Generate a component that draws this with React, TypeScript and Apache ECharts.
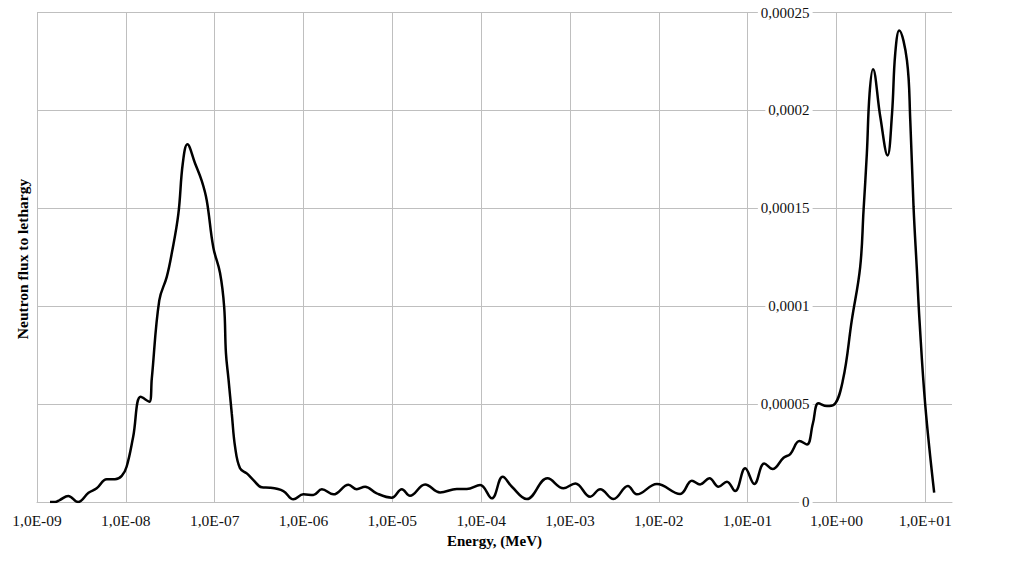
import React, { useEffect, useRef } from "react";
import * as echarts from "echarts";

// Energy (MeV) and neutron flux to lethargy
const energies: number[] = [
  1.4e-9, 1.6e-9, 1.8e-9, 2.25e-9, 2.9e-9, 3.8e-9, 4.7e-9, 6.1e-9, 7.55e-9, 9.0e-9,
  1.02e-8, 1.21e-8, 1.47e-8, 1.84e-8, 1.96e-8, 2.38e-8, 2.89e-8, 3.29e-8, 3.9e-8, 4.38e-8,
  4.93e-8, 6.01e-8, 7.16e-8, 8.15e-8, 9.66e-8, 1.15e-7, 1.28e-7, 1.34e-7, 1.43e-7, 1.56e-7,
  1.7e-7, 1.93e-7, 2.3e-7, 2.73e-7, 3.39e-7, 4.21e-7, 5.94e-7, 7.69e-7, 9.98e-7, 1.29e-6,
  1.61e-6, 2.17e-6, 3.21e-6, 3.98e-6, 4.94e-6, 6.68e-6, 9.86e-6, 1.28e-5, 1.58e-5, 2.34e-5,
  3.45e-5, 5.32e-5, 6.9e-5, 9.75e-5, 1.32e-4, 1.75e-4, 2.22e-4, 3.27e-4, 5.58e-4, 8.45e-4,
  1.15e-3, 1.69e-3, 2.19e-3, 3.09e-3, 4.49e-3, 5.66e-3, 9.53e-3, 1.74e-2, 2.36e-2, 2.92e-2,
  3.72e-2, 4.7e-2, 5.85e-2, 7.24e-2, 9.4e-2, 0.119, 0.154, 0.191, 0.254, 0.302,
  0.384, 0.466, 0.543, 0.628, 0.782, 0.927, 1.18, 1.49, 1.85, 2.02,
  2.2, 2.36, 2.58, 3.11, 3.76, 4.22, 4.59, 5.09, 6.22, 6.78,
  7.38, 8.05, 8.61, 10.0, 12.6,
];

const flux: number[] = [
  0.0, 0.0, 0.1e-5, 0.31e-5, 0.0, 0.47e-5, 0.7e-5, 1.16e-5, 1.16e-5, 1.33e-5,
  1.8e-5, 3.33e-5, 5.37e-5, 5.12e-5, 6.3e-5, 10.3e-5, 11.5e-5, 12.7e-5, 14.7e-5, 17.3e-5,
  18.27e-5, 17.3e-5, 16.4e-5, 15.4e-5, 13.0e-5, 11.7e-5, 9.96e-5, 7.6e-5, 6.3e-5, 4.5e-5,
  2.8e-5, 1.72e-5, 1.46e-5, 1.12e-5, 0.75e-5, 0.73e-5, 0.56e-5, 0.14e-5, 0.39e-5, 0.36e-5,
  0.65e-5, 0.39e-5, 0.88e-5, 0.65e-5, 0.78e-5, 0.44e-5, 0.22e-5, 0.65e-5, 0.32e-5, 0.9e-5,
  0.49e-5, 0.66e-5, 0.66e-5, 0.87e-5, 0.19e-5, 1.29e-5, 0.78e-5, 0.15e-5, 1.21e-5, 0.7e-5,
  0.95e-5, 0.27e-5, 0.65e-5, 0.15e-5, 0.82e-5, 0.39e-5, 0.92e-5, 0.41e-5, 1.09e-5, 0.9e-5,
  1.21e-5, 0.78e-5, 1.04e-5, 0.56e-5, 1.72e-5, 0.92e-5, 1.97e-5, 1.68e-5, 2.26e-5, 2.45e-5,
  3.11e-5, 2.94e-5, 4.01e-5, 5.04e-5, 4.9e-5, 4.95e-5, 6.2e-5, 9.29e-5, 12.0e-5, 14.9e-5,
  17.8e-5, 20.85e-5, 22.1e-5, 19.7e-5, 17.7e-5, 19.8e-5, 22.9e-5, 24.08e-5, 22.55e-5, 19.5e-5,
  15.07e-5, 11.84e-5, 9.29e-5, 4.95e-5, 0.48e-5,
];

const xMin = 1e-9;
const xMax = 20;
const yTicks: string[] = ["0", "0,00005", "0,0001", "0,00015", "0,0002", "0,00025"];
const yMax = 0.00025;
const yStep = 0.00005;

const xTitle = "Energy, (MeV)";
const yTitle = "Neutron flux to lethargy";

const FONT = "'Liberation Serif', 'Times New Roman', serif";
const GRID = "#bfbfbf";

function fmtX(v: number): string {
  const e = Math.round(Math.log10(v));
  if (Math.abs(v - Math.pow(10, e)) / v > 1e-6) return "";
  const a = Math.abs(e);
  return "1,0E" + (e < 0 ? "-" : "+") + (a < 10 ? "0" + a : String(a));
}

export default function App() {
  const ref = useRef<HTMLDivElement>(null);
  useEffect(() => {
    if (!ref.current) return;
    const chart = echarts.init(ref.current, undefined, { renderer: "svg" });
    const gridLeft = 37;
    const gridRight = 72;
    const gridW = 1024 - gridLeft - gridRight;
    const decade = gridW / (Math.log10(xMax) - Math.log10(xMin));
    const yAxisX = gridLeft + decade * 8; // position of 1E-1
    const offset = -(gridLeft + gridW - yAxisX);
    const splitColors: string[] = [];
    for (let i = 0; i < 11; i++) splitColors.push(GRID);
    splitColors.push("rgba(0,0,0,0)");

    chart.setOption({
      animation: false,
      backgroundColor: "#ffffff",
      grid: { left: gridLeft, right: gridRight, top: 12.5, bottom: 59, containLabel: false },
      xAxis: {
        type: "log",
        logBase: 10,
        min: xMin,
        max: xMax,
        interval: 1,
        splitNumber: 11,
        name: xTitle,
        nameLocation: "middle",
        nameGap: 31,
        nameTextStyle: { fontFamily: FONT, fontSize: 15, fontWeight: "bold", color: "#000" },
        axisLine: { show: true, lineStyle: { color: GRID, width: 1 } },
        axisTick: { show: false },
        axisLabel: { fontFamily: FONT, fontSize: 15.5, color: "#111", margin: 10, interval: 0, formatter: fmtX },
        splitLine: { show: true, lineStyle: { color: splitColors, width: 1 } },
      },
      yAxis: [
        {
          type: "value",
          min: 0,
          max: yMax,
          interval: yStep,
          axisLine: { show: false },
          axisTick: { show: false },
          axisLabel: { show: false },
          splitLine: { show: true, lineStyle: { color: GRID, width: 1 } },
          z: 0,
        },
        {
          type: "value",
          position: "right",
          offset: offset,
          min: 0,
          max: yMax,
          interval: yStep,
          z: 5,
          axisLine: { show: false },
          axisTick: { show: false },
          splitLine: { show: false },
          axisLabel: {
            fontFamily: FONT,
            fontSize: 15,
            color: "#111",
            align: "right",
            margin: 65,
            backgroundColor: "#ffffff",
            padding: [1, 3, 1, 3],
            formatter: (v: number) => {
              const i = Math.round(v / yStep);
              return yTicks[i] ?? "";
            },
          },
        },
      ],
      graphic: [
        {
          type: "text",
          x: 22,
          y: 259,
          rotation: Math.PI / 2,
          style: {
            text: yTitle,
            fontFamily: FONT,
            fontSize: 15.5,
            fontWeight: "bold",
            fill: "#000",
            textAlign: "center",
            textVerticalAlign: "middle",
          },
        },
      ],
      series: [
        {
          type: "line",
          yAxisIndex: 0,
          data: energies.map((e, i) => [e, flux[i]]),
          smooth: 0.4,
          showSymbol: false,
          symbol: "none",
          lineStyle: { color: "#000", width: 2.5 },
          z: 2,
        },
      ],
    });
    return () => chart.dispose();
  }, []);
  return (
    <div
      ref={ref}
      style={{ position: "fixed", left: 0, top: 0, width: 1024, height: 561, background: "#fff" }}
    />
  );
}
